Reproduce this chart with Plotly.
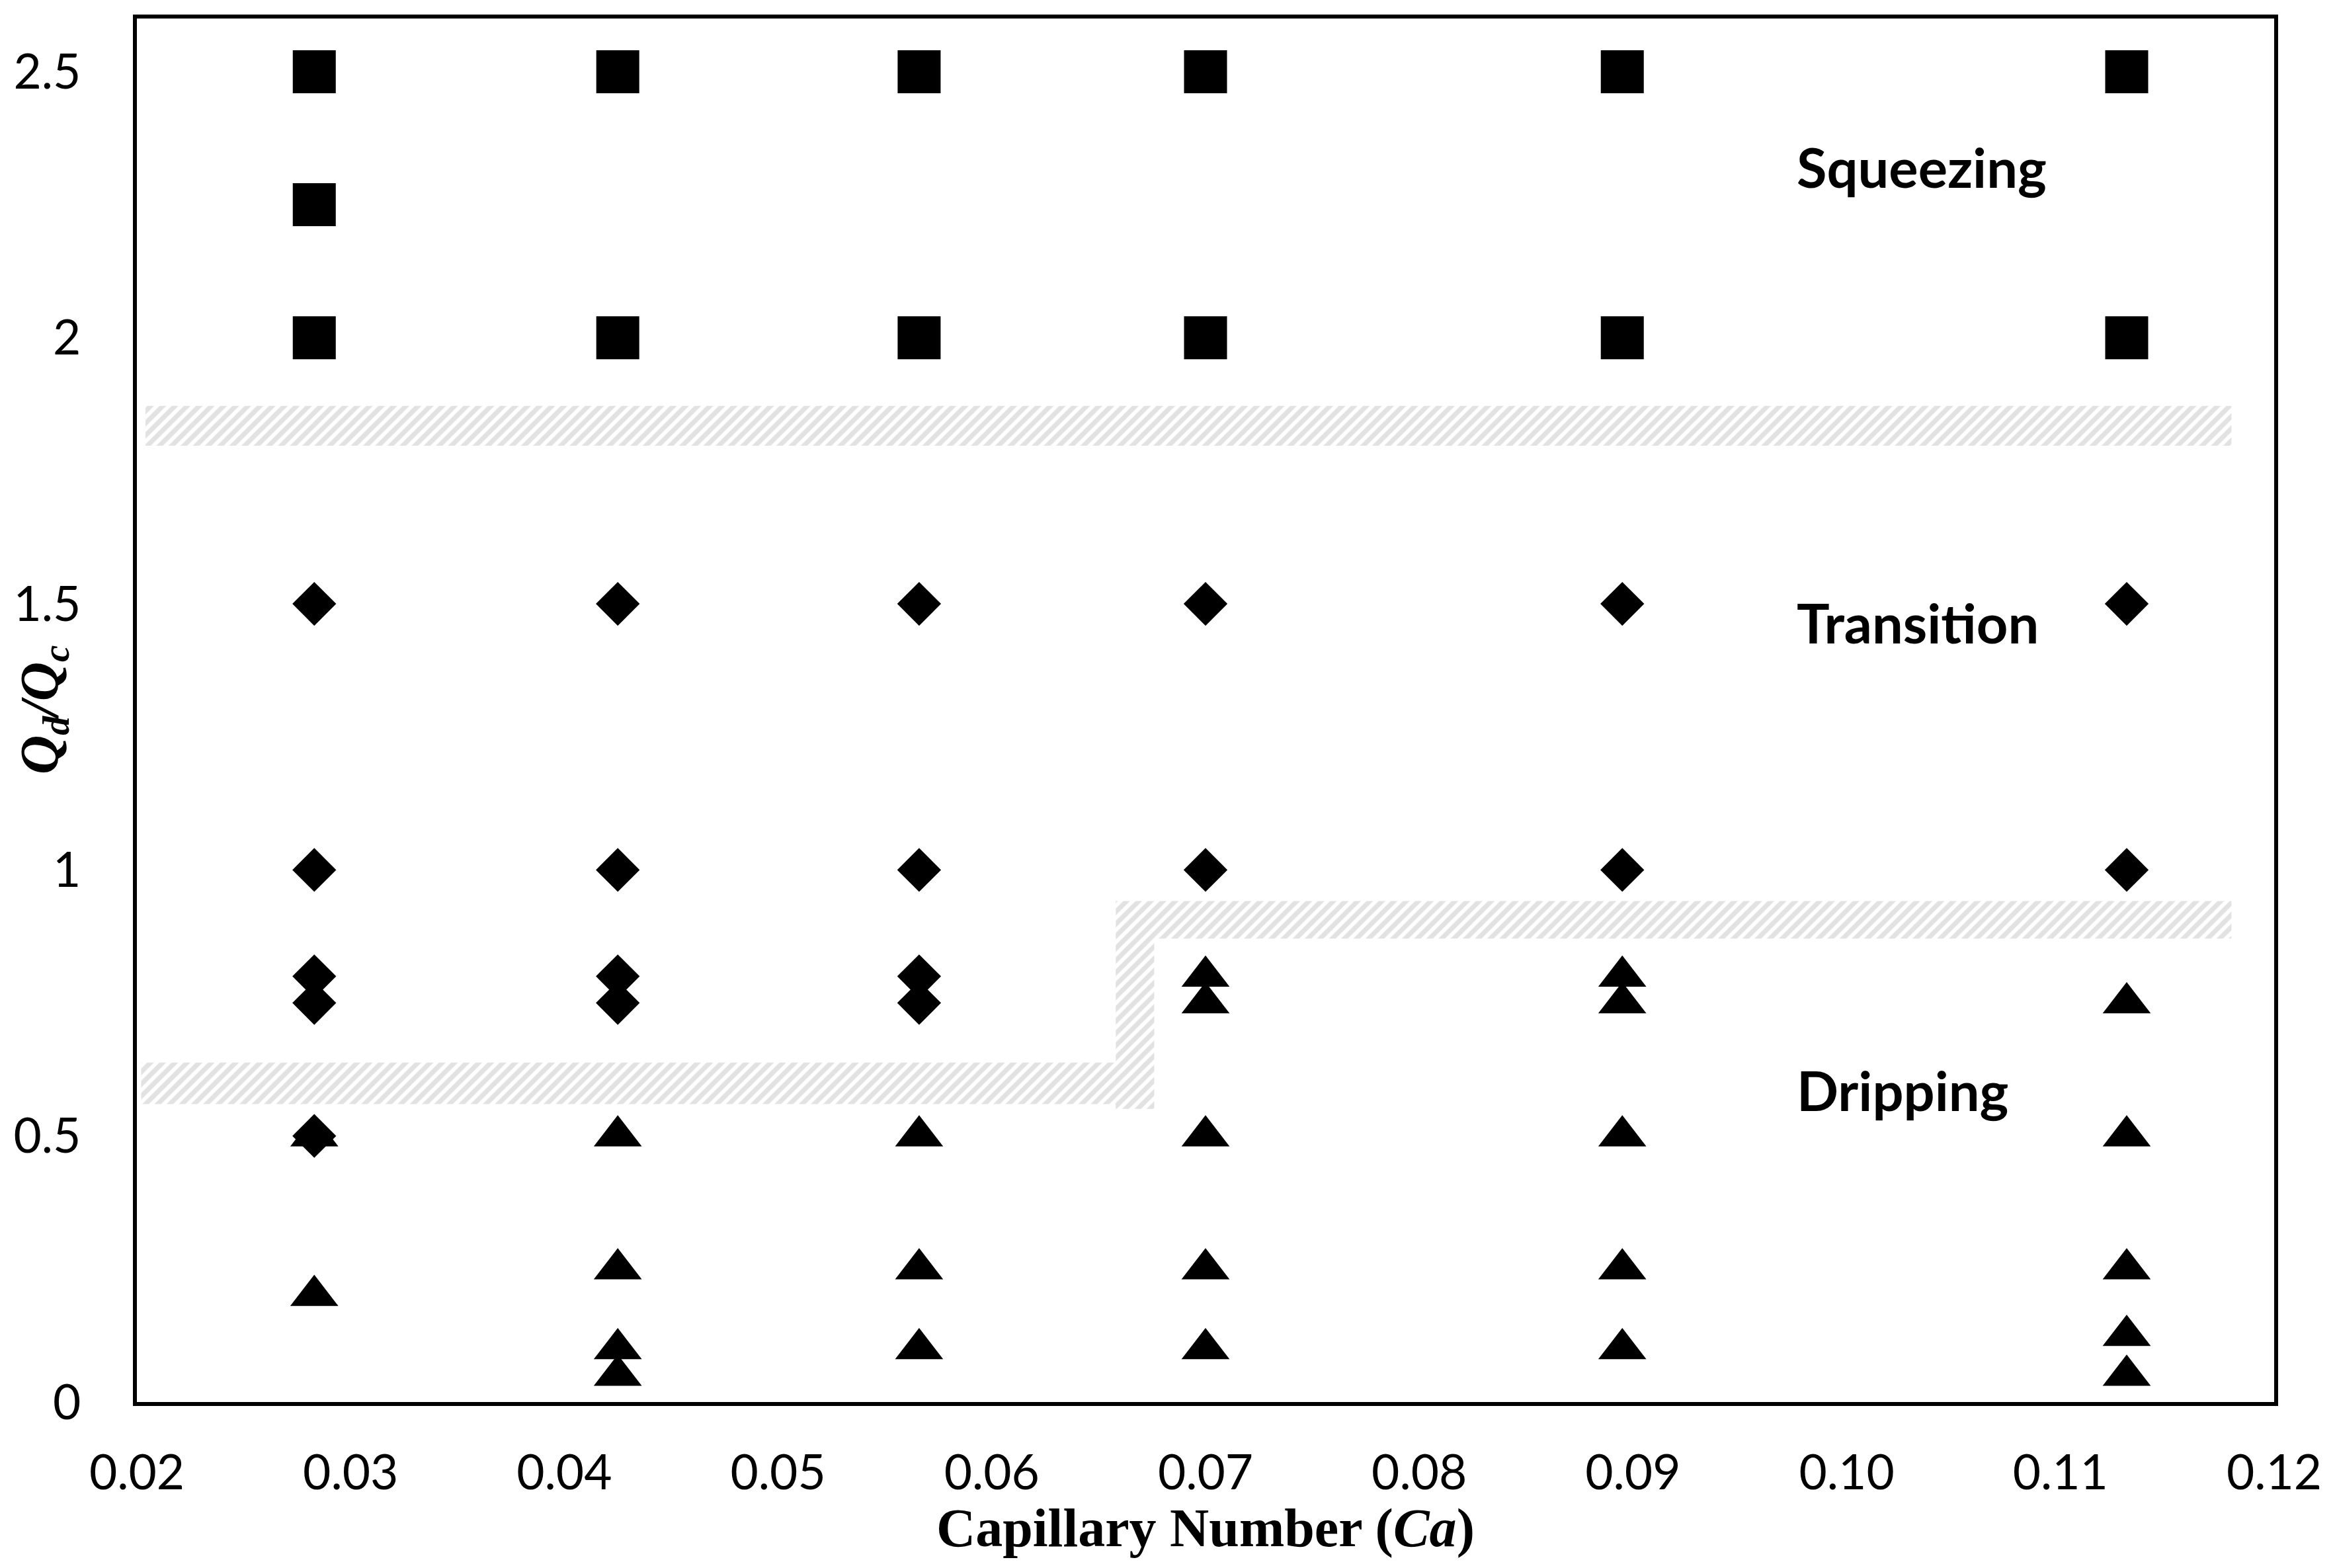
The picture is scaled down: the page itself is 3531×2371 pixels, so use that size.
import plotly.graph_objects as go

# Capillary number columns and the Qd/Qc points
squeezing_x = [0.0283, 0.0283, 0.0283, 0.0425, 0.0425, 0.0566, 0.0566,
               0.0700, 0.0700, 0.0895, 0.0895, 0.1131, 0.1131]
squeezing_y = [2.5, 2.25, 2.0, 2.5, 2.0, 2.5, 2.0,
               2.5, 2.0, 2.5, 2.0, 2.5, 2.0]

transition_x = [0.0283, 0.0283, 0.0283, 0.0283, 0.0283,
                0.0425, 0.0425, 0.0425, 0.0425,
                0.0566, 0.0566, 0.0566, 0.0566,
                0.0700, 0.0700, 0.0895, 0.0895, 0.1131, 0.1131]
transition_y = [1.5, 1.0, 0.8, 0.75, 0.5,
                1.5, 1.0, 0.8, 0.75,
                1.5, 1.0, 0.8, 0.75,
                1.5, 1.0, 1.5, 1.0, 1.5, 1.0]

dripping_x = [0.0283, 0.0283,
              0.0425, 0.0425, 0.0425, 0.0425,
              0.0566, 0.0566, 0.0566,
              0.0700, 0.0700, 0.0700, 0.0700, 0.0700,
              0.0895, 0.0895, 0.0895, 0.0895, 0.0895,
              0.1131, 0.1131, 0.1131, 0.1131, 0.1131]
dripping_y = [0.5, 0.2,
              0.5, 0.25, 0.1, 0.05,
              0.5, 0.25, 0.1,
              0.8, 0.75, 0.5, 0.25, 0.1,
              0.8, 0.75, 0.5, 0.25, 0.1,
              0.75, 0.5, 0.25, 0.125, 0.05]

# regime boundaries (hatched bands)
upper_band_x = [0.0204, 0.1180, 0.1180, 0.0204]
upper_band_y = [1.797, 1.797, 1.872, 1.872]
lower_band_x = [0.0202, 0.0658, 0.0658, 0.1180, 0.1180, 0.0676, 0.0676, 0.0658, 0.0658, 0.0202]
lower_band_y = [0.638, 0.638, 0.9415, 0.9415, 0.871, 0.871, 0.551, 0.551, 0.560, 0.560]

regime_names = ["Squeezing", "Transition", "Dripping"]
regime_label_y = [2.322, 1.465, 0.587]
regime_label_x = 0.0976

x_ticks = [0.02, 0.03, 0.04, 0.05, 0.06, 0.07, 0.08, 0.09, 0.10, 0.11, 0.12]
y_ticks = [0, 0.5, 1, 1.5, 2, 2.5]

fig = go.Figure()

hatch = dict(shape="/", fgcolor="#c6c6c6", bgcolor="white", size=13, solidity=0.55)
for bx, by in [(upper_band_x, upper_band_y), (lower_band_x, lower_band_y)]:
    fig.add_trace(go.Scatter(x=bx, y=by, mode="lines", fill="toself",
                             line=dict(width=0), fillcolor="white",
                             fillpattern=hatch, hoverinfo="skip", showlegend=False))

fig.add_trace(go.Scatter(x=squeezing_x, y=squeezing_y, mode="markers", name="Squeezing",
                         marker=dict(symbol="square", size=65, color="black", line=dict(width=0))))
fig.add_trace(go.Scatter(x=transition_x, y=transition_y, mode="markers", name="Transition",
                         marker=dict(symbol="diamond", size=51, color="black", line=dict(width=0))))
fig.add_trace(go.Scatter(x=dripping_x, y=dripping_y, mode="markers", name="Dripping",
                         marker=dict(symbol="triangle-up", size=63, color="black", line=dict(width=0))))

for name, ly in zip(regime_names, regime_label_y):
    fig.add_annotation(x=regime_label_x, y=ly, text="<b>" + name + "</b>", showarrow=False,
                       xanchor="left", yanchor="middle",
                       font=dict(family="Lato", size=83, color="black"))

# axis titles
fig.add_annotation(xref="paper", yref="paper", x=0.5, y=0, yshift=-190,
                   text="<b>Capillary Number (<i>Ca</i>)</b>", showarrow=False,
                   xanchor="center", yanchor="middle",
                   font=dict(family="Liberation Serif", size=82, color="black"))
fig.add_annotation(xref="paper", yref="paper", x=0, y=0.5, xshift=-142,
                   text="<b><i>Q</i><sub><i>d</i></sub><i>/Q</i><sub><i>c</i></sub></b>",
                   showarrow=False, textangle=-90, xanchor="center", yanchor="middle",
                   font=dict(family="Liberation Serif", size=82, color="black"))

axis_common = dict(showline=True, linecolor="black", linewidth=6, mirror=True,
                   showgrid=False, zeroline=False, ticks="",
                   tickfont=dict(family="Lato", size=73, color="black"))

fig.update_xaxes(range=[0.02, 0.12], tickvals=x_ticks, tickformat=".2f",
                 ticklabelstandoff=38, **axis_common)
fig.update_yaxes(range=[0, 2.6], tickvals=y_ticks, ticklabelstandoff=64, **axis_common)

# page body adds 8px, so the figure is trimmed to keep the plot frame in place
fig.update_layout(width=3515, height=2355, autosize=False,
                  margin=dict(l=197, r=79, t=20, b=243),
                  paper_bgcolor="white", plot_bgcolor="white",
                  showlegend=False)

fig.write_html("out.html")
